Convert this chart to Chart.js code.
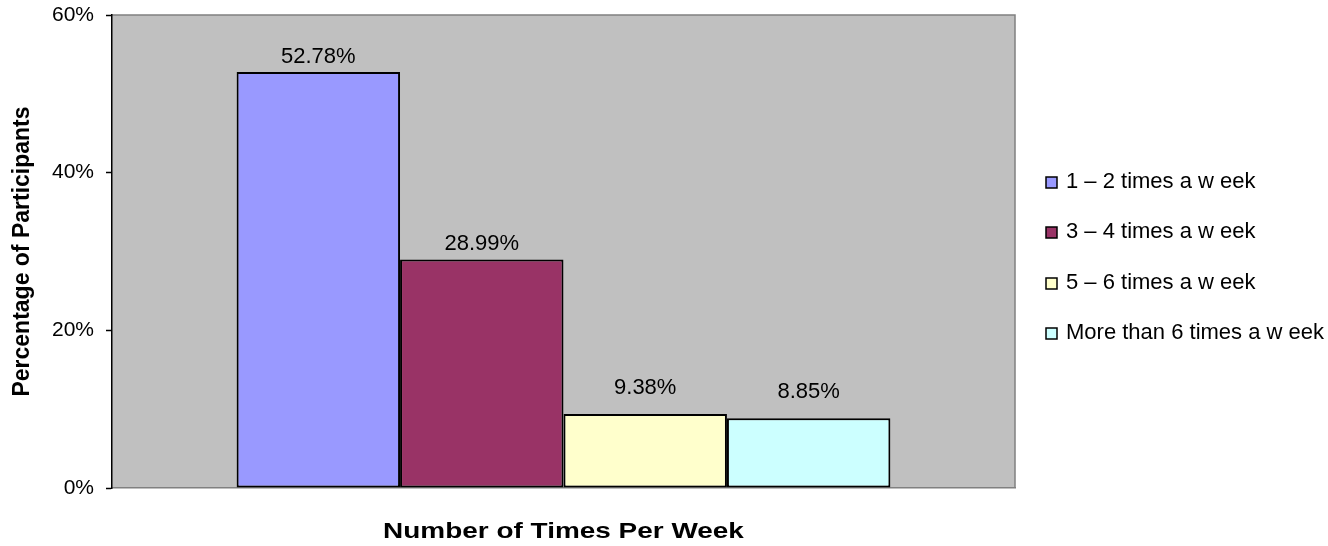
<!DOCTYPE html>
<html>
<head>
<meta charset="utf-8">
<script src="https://cdn.jsdelivr.net/npm/chart.js@4.4.1/dist/chart.umd.min.js"></script>
<style>
  html, body { margin: 0; padding: 0; background: #ffffff; }
  #wrap { width: 1328px; height: 546px; position: relative; }
</style>
</head>
<body>
<div id="wrap"><canvas id="chart"></canvas></div>
<script>
// Survey: how many times per week participants do the activity
const categories = [''];
const seriesLabels = [
  '1 – 2 times a w eek',
  '3 – 4 times a w eek',
  '5 – 6 times a w eek',
  'More than 6 times a w eek'
];
const seriesValues = [52.78, 28.99, 9.38, 8.85];
const seriesColors = ['#9999FF', '#993366', '#FFFFCC', '#CCFFFF'];
const yTickValues = [0, 20, 40, 60];
const xTitle = 'Number of Times Per Week';
const yTitle = 'Percentage of Participants';

const FONT = 'Arial, "Liberation Sans", sans-serif';

// Grey plot backdrop with a thin frame on top and right
const plotBackdrop = {
  id: 'plotBackdrop',
  beforeDraw(chart) {
    const { ctx, chartArea: a } = chart;
    ctx.save();
    ctx.fillStyle = '#C0C0C0';
    ctx.fillRect(a.left, a.top, a.right - a.left, a.bottom - a.top);
    ctx.strokeStyle = '#808080';
    ctx.lineWidth = 1.5;
    ctx.beginPath();
    ctx.moveTo(a.left, a.top);
    ctx.lineTo(a.right, a.top);
    ctx.lineTo(a.right, a.bottom);
    ctx.stroke();
    ctx.restore();
  }
};

// Percentage written above each bar
const valueLabels = {
  id: 'valueLabels',
  afterDatasetsDraw(chart, args, opts) {
    const { ctx } = chart;
    ctx.save();
    ctx.font = '22px ' + FONT;
    ctx.fillStyle = '#000';
    ctx.textAlign = 'center';
    ctx.textBaseline = 'middle';
    chart.data.datasets.forEach((ds, i) => {
      const meta = chart.getDatasetMeta(i);
      meta.data.forEach((bar, j) => {
        const v = ds.data[j];
        const raise = (opts.raise && opts.raise[i]) || 15;
        ctx.fillText(v.toFixed(2) + '%', bar.x, bar.y - raise);
      });
    });
    ctx.restore();
  }
};

// Bold, slightly widened title under the x axis
const xAxisTitle = {
  id: 'xAxisTitle',
  afterDraw(chart, args, opts) {
    const { ctx, chartArea: a } = chart;
    ctx.save();
    ctx.font = 'bold 22px ' + FONT;
    ctx.fillStyle = '#000';
    ctx.textAlign = 'center';
    ctx.textBaseline = 'middle';
    ctx.translate((a.left + a.right) / 2, a.bottom + opts.offset);
    ctx.scale(opts.stretch, 1);
    ctx.fillText(opts.text, 0, 0);
    ctx.restore();
  }
};

// Legend column to the right of the plot
const sideLegend = {
  id: 'sideLegend',
  afterDraw(chart, args, opts) {
    const { ctx, chartArea: a } = chart;
    const sets = chart.data.datasets;
    const step = opts.step;
    const mid = (a.top + a.bottom) / 2 + opts.shift;
    const x0 = a.right + opts.gap;
    ctx.save();
    ctx.font = '22px ' + FONT;
    ctx.textBaseline = 'middle';
    ctx.textAlign = 'left';
    sets.forEach((ds, i) => {
      const y = Math.round(mid + (i - (sets.length - 1) / 2) * step);
      ctx.fillStyle = ds.backgroundColor;
      ctx.fillRect(x0, y - 5, 11, 11);
      ctx.strokeStyle = '#000';
      ctx.lineWidth = 1.5;
      ctx.strokeRect(x0, y - 5, 11, 11);
      ctx.fillStyle = '#000';
      ctx.fillText(ds.label, x0 + 20, y);
    });
    ctx.restore();
  }
};

const datasets = seriesLabels.map((label, i) => ({
  label: label,
  data: [seriesValues[i]],
  backgroundColor: seriesColors[i],
  borderColor: '#000',
  borderWidth: 2,
  borderSkipped: false,
  categoryPercentage: 0.724,
  barPercentage: 1.0
}));

new Chart(document.getElementById('chart'), {
  type: 'bar',
  data: { labels: categories, datasets: datasets },
  plugins: [plotBackdrop, valueLabels, xAxisTitle, sideLegend],
  options: {
    responsive: true,
    maintainAspectRatio: false,
    animation: false,
    devicePixelRatio: 1,
    layout: { padding: { top: 15, left: 0, right: 313, bottom: 0 } },
    plugins: {
      legend: { display: false },
      tooltip: { enabled: false },
      valueLabels: { raise: [15, 16, 26.5, 26] },
      xAxisTitle: { text: xTitle, offset: 44, stretch: 1.27 },
      sideLegend: { gap: 31, step: 50.3, shift: 6 }
    },
    scales: {
      x: {
        afterFit(s) { s.height = 58; },
        ticks: { display: false },
        grid: { display: false },
        border: { display: true, color: '#808080', width: 1.5 }
      },
      y: {
        min: 0,
        max: 60,
        afterFit(s) { s.width = 112; s.paddingTop = 0; s.paddingBottom = 0; },
        afterBuildTicks(s) { s.ticks = yTickValues.map(v => ({ value: v })); },
        ticks: {
          color: '#000',
          font: { family: FONT, size: 21 },
          padding: 12,
          callback: v => v + '%'
        },
        grid: {
          drawOnChartArea: false,
          drawTicks: true,
          tickLength: 6,
          tickColor: '#000',
          tickWidth: 1.5
        },
        border: { display: true, color: '#000', width: 1.5 },
        title: {
          display: true,
          text: yTitle,
          color: '#000',
          font: { family: FONT, size: 23, weight: 'bold' },
          padding: { top: 9, bottom: 0 }
        }
      }
    }
  }
});
</script>
</body>
</html>
